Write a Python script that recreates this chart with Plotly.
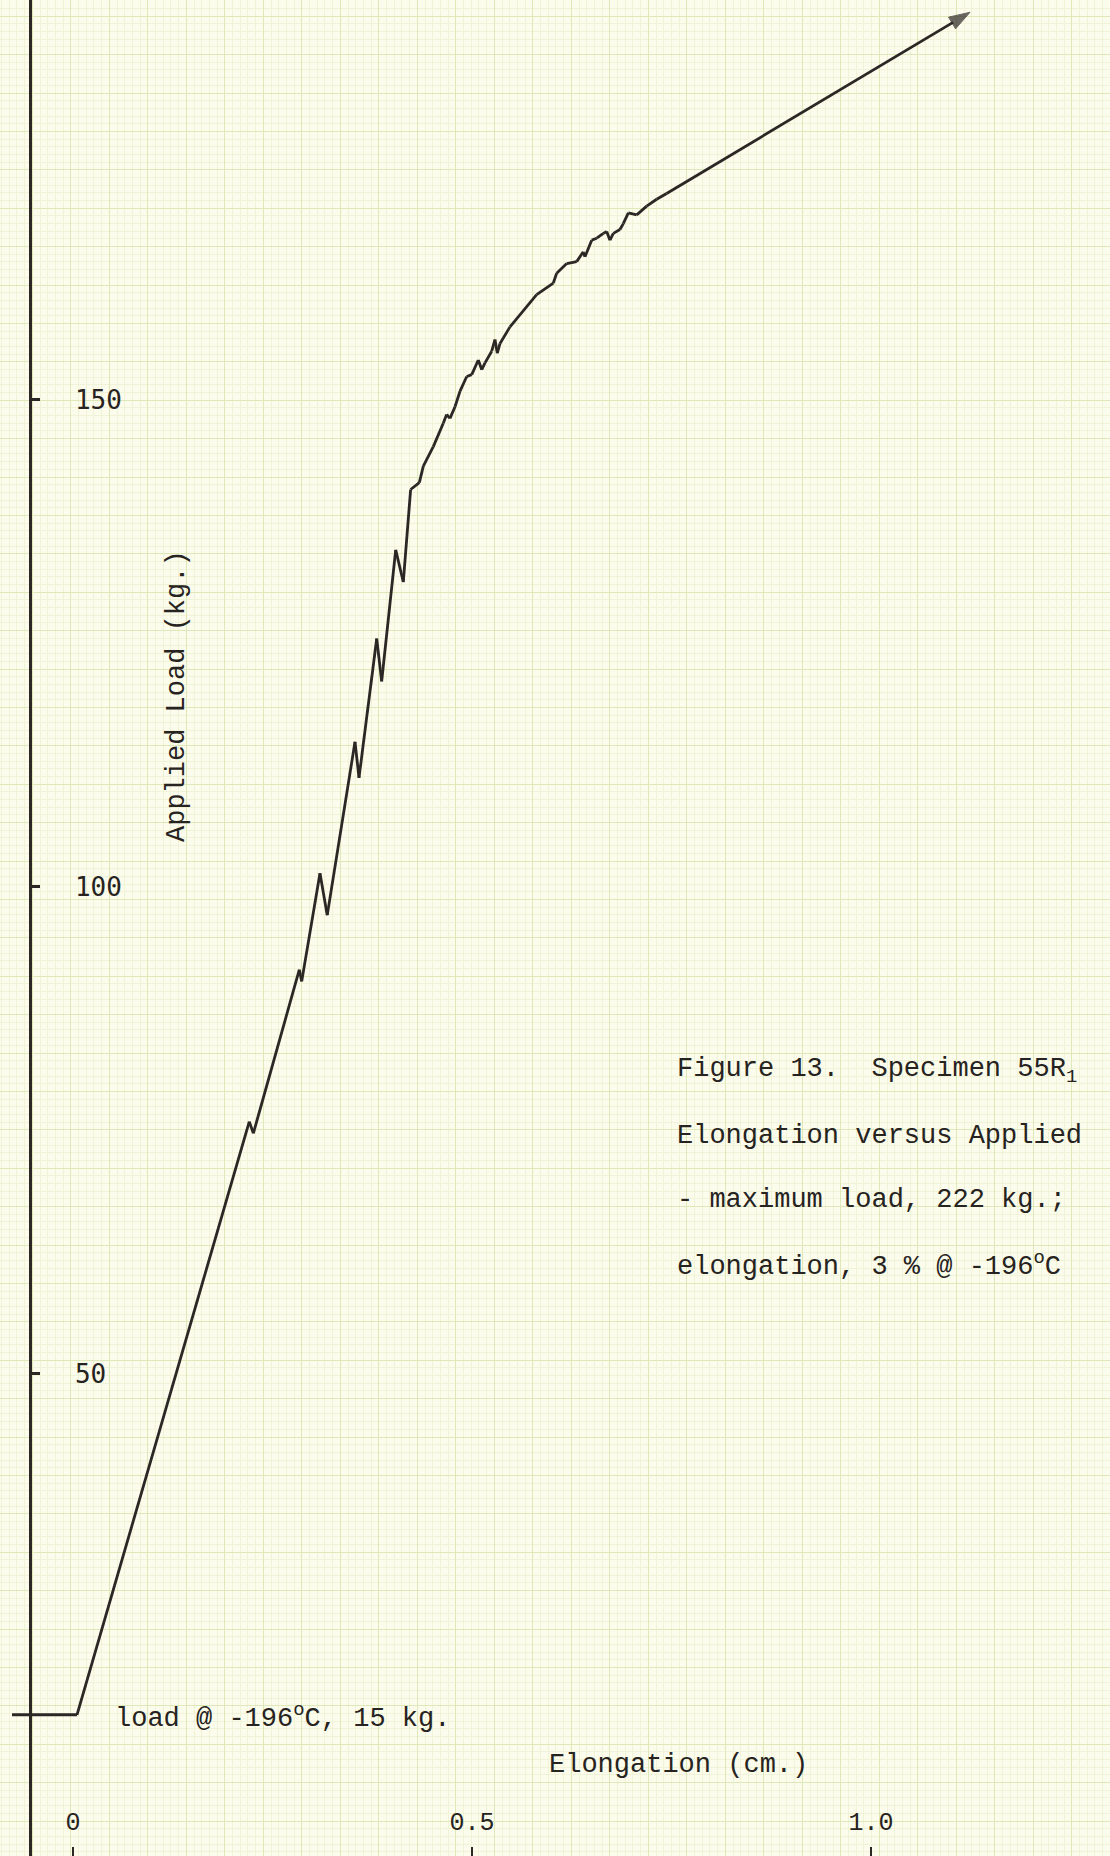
import plotly.graph_objects as go

# ---------------- data ----------------
elong_cm = [-0.0764, 0.0050, 0.2209, 0.2260, 0.2836, 0.2866, 0.3095, 0.3186, 0.3534, 0.3584,
            0.3806, 0.3868, 0.4044, 0.4139, 0.4231, 0.4340, 0.4390, 0.4515, 0.4640, 0.4682,
            0.4724, 0.4787, 0.4850, 0.4934, 0.4997, 0.5079, 0.5122, 0.5163, 0.5247, 0.5288,
            0.5317, 0.5351, 0.5476, 0.5643, 0.5810, 0.6019, 0.6061, 0.6187, 0.6312, 0.6394,
            0.6416, 0.6500, 0.6563, 0.6646, 0.6688, 0.6729, 0.6771, 0.6854, 0.6896, 0.6959,
            0.7064, 0.7189, 0.7314, 0.7439, 1.1241]
load_kg = [15.0, 15.0, 75.9, 74.7, 91.5, 90.3, 101.4, 97.1, 114.9, 111.2,
           125.5, 121.1, 134.6, 131.3, 140.8, 141.5, 143.2, 145.2, 147.6, 148.5,
           148.1, 149.3, 150.9, 152.4, 152.6, 154.1, 153.1, 153.8, 155.0, 156.2,
           154.8, 155.8, 157.5, 159.2, 160.8, 162.0, 163.0, 164.0, 164.2, 165.2,
           164.7, 166.4, 166.6, 167.1, 167.3, 166.4, 167.1, 167.5, 168.1, 169.2,
           169.0, 169.9, 170.6, 171.2, 189.8]

x_tickvals = [0, 0.5, 1.0]
x_ticktext = ["0", "0.5", "1.0"]
y_tickvals = [50, 100, 150]
y_ticktext = ["50", "100", "150"]

x_title = "Elongation (cm.)"
y_title = "Applied Load (kg.)"
start_note = "load @ -196<sup>o</sup>C, 15 kg."
caption_lines = [
    "Figure 13.\u00a0 Specimen 55R<sub>1</sub>",
    "Elongation versus Applied",
    "- maximum load, 222 kg.;",
    "elongation, 3 % @ -196<sup>o</sup>C",
]

# ---------------- styling ----------------
W, H = 1110, 1856
PAPER = "#fcfcec"
MAJOR = "#dfe8b8"
MINOR = "#f0f3d8"
INK = "#2b2725"
TXT = "#262321"
TYPE = "Liberation Mono, Courier New, monospace"


def px(xp, yp):
    return xp / W, 1 - yp / H


fig = go.Figure()

# empty trace to carry the graph-paper grid axes
fig.add_trace(go.Scatter(x=[], y=[], xaxis="x2", yaxis="y2",
                         showlegend=False, hoverinfo="skip"))

n = len(elong_cm)
fig.add_trace(go.Scatter(
    x=elong_cm, y=load_kg, mode="lines+markers",
    line=dict(color=INK, width=2.8),
    marker=dict(size=[0] * (n - 1) + [22], symbol="arrow",
                angleref="previous", color=INK, line=dict(width=1, color=INK)),
    showlegend=False, hoverinfo="skip",
))

annotations = []
ax_, ay_ = px(177, 696)
annotations.append(dict(x=ax_, y=ay_, xref="paper", yref="paper", text=y_title,
                        textangle=-90, showarrow=False, xanchor="center", yanchor="middle",
                        font=dict(family=TYPE, size=27, color=TXT)))
ax_, ay_ = px(113, 1716)
annotations.append(dict(x=ax_, y=ay_, xref="paper", yref="paper", text=start_note,
                        showarrow=False, xanchor="left", yanchor="middle",
                        font=dict(family=TYPE, size=27, color=TXT)))
ax_, ay_ = px(678, 1765)
annotations.append(dict(x=ax_, y=ay_, xref="paper", yref="paper", text=x_title,
                        showarrow=False, xanchor="center", yanchor="middle",
                        font=dict(family=TYPE, size=27, color=TXT)))
for i, line in enumerate(caption_lines):
    ax_, ay_ = px(675, 1071 + 64.5 * i)
    annotations.append(dict(x=ax_, y=ay_, xref="paper", yref="paper", text=line,
                            showarrow=False, xanchor="left", yanchor="middle",
                            font=dict(family=TYPE, size=27, color=TXT)))

fig.update_layout(
    width=W, height=H,
    margin=dict(l=0, r=0, t=0, b=0),
    paper_bgcolor=PAPER, plot_bgcolor=PAPER,
    showlegend=False,
    annotations=annotations,
    xaxis=dict(
        range=[-73 / 798, (W - 73) / 798],
        tickvals=x_tickvals, ticktext=x_ticktext,
        anchor="free", position=0, side="top",
        ticks="outside", ticklen=9, tickwidth=1.5, tickcolor=INK,
        ticklabelstandoff=7,
        tickfont=dict(family=TYPE, size=25, color=TXT),
        showline=False, showgrid=False, zeroline=False, automargin=False,
    ),
    yaxis=dict(
        range=[0.5, 191.06],
        tickvals=y_tickvals, ticktext=y_ticktext,
        anchor="free", position=30 / W, side="right",
        showline=True, linecolor=INK, linewidth=2.5,
        ticks="outside", ticklen=8, tickwidth=2.5, tickcolor=INK,
        ticklabelstandoff=30,
        tickfont=dict(family="DejaVu Sans Mono, monospace", size=26, color=TXT),
        showgrid=False, zeroline=False, automargin=False,
    ),
    xaxis2=dict(
        overlaying="x", side="top", range=[0, W],
        tick0=32.3, dtick=38.5, showgrid=True, gridcolor=MAJOR, gridwidth=1.3,
        showticklabels=False, ticks="", zeroline=False, showline=False,
        minor=dict(tick0=32.3, dtick=7.7, showgrid=True, gridcolor=MINOR, gridwidth=0.8),
    ),
    yaxis2=dict(
        overlaying="y", side="right", range=[H, 0], anchor="x2",
        tick0=16.2, dtick=38.4, showgrid=True, gridcolor=MAJOR, gridwidth=1.3,
        showticklabels=False, ticks="", zeroline=False, showline=False,
        minor=dict(tick0=16.2, dtick=7.68, showgrid=True, gridcolor=MINOR, gridwidth=0.8),
    ),
)

fig.write_html(
    "out.html",
    config={"displayModeBar": False},
    post_script="document.body.style.margin='0';document.body.style.background='" + PAPER + "';",
)
